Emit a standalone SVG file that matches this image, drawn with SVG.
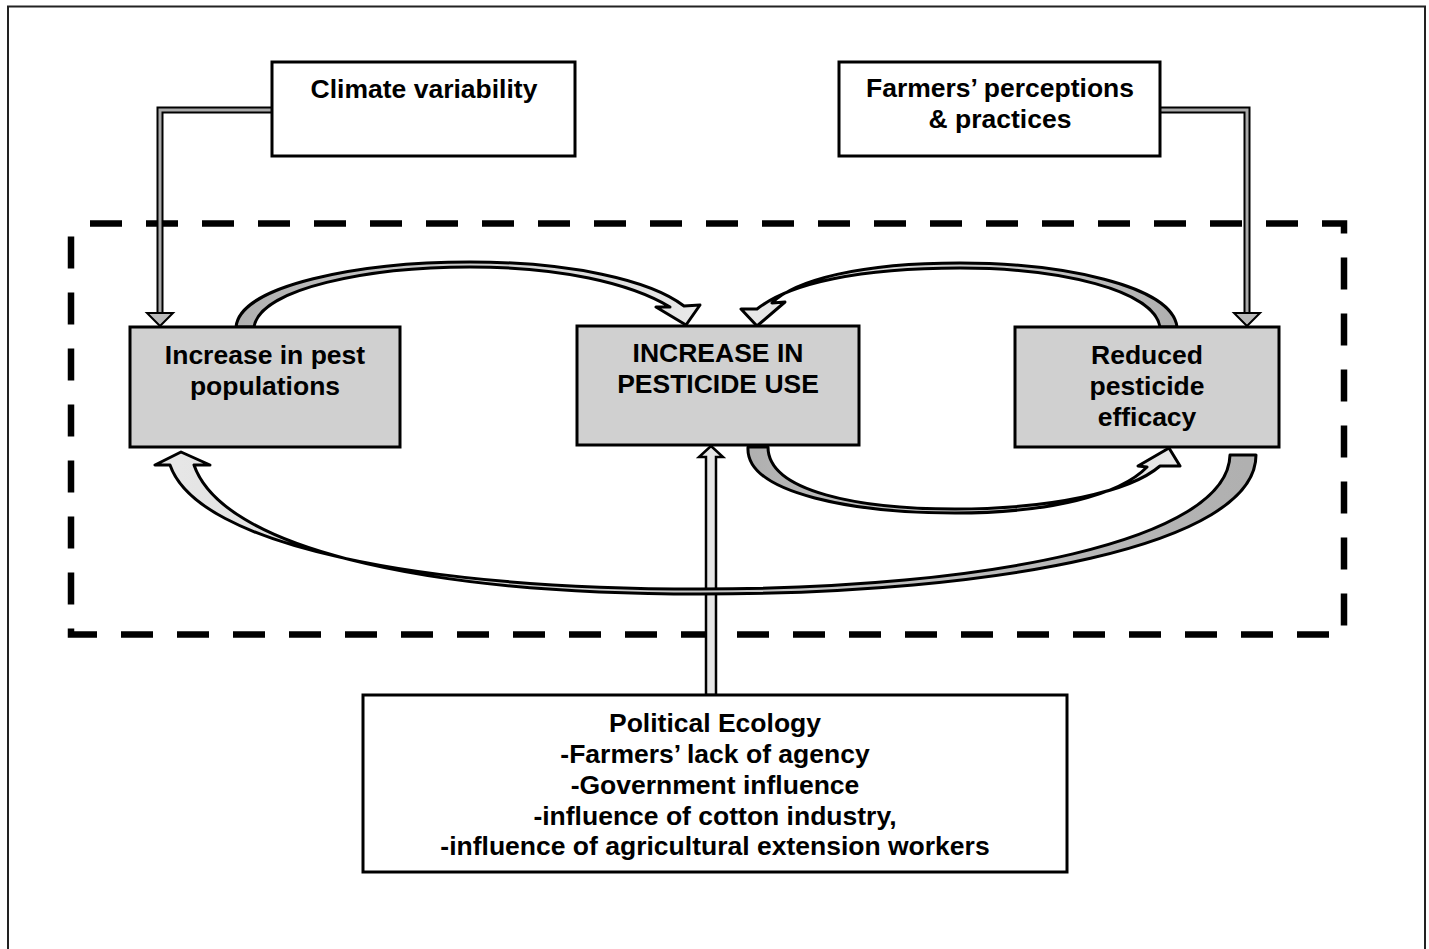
<svg xmlns="http://www.w3.org/2000/svg" width="1429" height="949" viewBox="0 0 1429 949">
<style>
.box{stroke:#000;stroke-width:3}
.white{fill:#fff}
.grey{fill:#d0d0d0}
.t{font-family:"Liberation Sans",Arial,sans-serif;font-weight:bold;font-size:26.5px;fill:#000;text-anchor:middle}
.curve{stroke:#000;stroke-width:3;stroke-linejoin:round}
.elbowOut{fill:none;stroke:#000;stroke-width:7}
.elbowIn{fill:none;stroke:#aaa;stroke-width:3}
.head{fill:#bbb;stroke:#000;stroke-width:2;stroke-linejoin:miter}
</style>
<defs>
<linearGradient id="g1" gradientUnits="userSpaceOnUse" x1="240" y1="0" x2="690" y2="0"><stop offset="0" stop-color="#b0b0b0"/><stop offset="0.4" stop-color="#c8c8c8"/><stop offset="1" stop-color="#e8e8e8"/></linearGradient>
<linearGradient id="g2" gradientUnits="userSpaceOnUse" x1="1170" y1="0" x2="755" y2="0"><stop offset="0" stop-color="#b0b0b0"/><stop offset="0.4" stop-color="#c8c8c8"/><stop offset="1" stop-color="#e8e8e8"/></linearGradient>
<linearGradient id="g3" gradientUnits="userSpaceOnUse" x1="755" y1="0" x2="1170" y2="0"><stop offset="0" stop-color="#b0b0b0"/><stop offset="0.4" stop-color="#c8c8c8"/><stop offset="1" stop-color="#e8e8e8"/></linearGradient>
<linearGradient id="g4" gradientUnits="userSpaceOnUse" x1="1245" y1="0" x2="180" y2="0"><stop offset="0" stop-color="#b0b0b0"/><stop offset="0.5" stop-color="#c8c8c8"/><stop offset="1" stop-color="#e6e6e6"/></linearGradient>
</defs>
<rect width="1429" height="949" fill="#fff"/>
<path d="M8,949 L8,6.5 L1425,6.5 L1425,949" fill="none" stroke="#222" stroke-width="2"/>
<rect id="system-boundary" x="71" y="223.5" width="1273" height="411" fill="none" stroke="#000" stroke-width="6.5" stroke-dasharray="32 24" stroke-dashoffset="37"/>

<g id="connectors">
<!-- climate -> pest -->
<path class="elbowOut" d="M272,110 L160,110 L160,313"/>
<path class="elbowIn" d="M272,110 L160,110 L160,313"/>
<polygon class="head" points="147,313 173,313 160,326"/>
<!-- farmers -> reduced -->
<path class="elbowOut" d="M1160,110 L1247,110 L1247,313"/>
<path class="elbowIn" d="M1160,110 L1247,110 L1247,313"/>
<polygon class="head" points="1234,313 1260,313 1247,326"/>
<!-- political -> pesticide use -->
<path d="M706,695 L706,457 L699,457 L711,446 L723,457 L716,457 L716,695 Z" fill="#e6e6e6" stroke="#000" stroke-width="2.5"/>
<!-- pest -> pesticide use -->
<path class="curve" fill="url(#g1)" d="M236,327 C240,285 360,262 470,262 C570,262 650,280 684,306 L700,305 L686,325 L656,307 L670,307 C630,283 560,267 470,267 C370,267 260,288 254,327 Z"/>
<!-- reduced -> pesticide use -->
<path class="curve" fill="url(#g2)" d="M1177,327 C1172,285 1060,263 960,263 C860,263 795,280 772,303 L785,302 L757,326 L741,309 L757,309 C790,283 860,268 960,268 C1060,268 1154,290 1160,327 Z"/>
<!-- pesticide use -> reduced -->
<path class="curve" fill="url(#g3)" d="M748,447 C745,495 860,513 955,513 C1050,513 1120,495 1147,467 L1138,466 L1169,448 L1180,466 L1160,466 C1130,492 1050,509 955,509 C860,509 768,492 768,447 Z"/>
<!-- reduced -> pest -->
<path class="curve" fill="url(#g4)" d="M1256,455 C1256,545 1000,594 700,594 C415,594 222,546 194,465 L210,465 L181,452 L155,465 L170,465 C198,546 420,589 700,589 C990,589 1228,540 1230,455 Z"/>
</g>

<g id="climate">
<rect class="box white" x="272" y="62" width="303" height="94"/>
<text class="t" x="424" y="98">Climate variability</text>
</g>
<g id="farmers">
<rect class="box white" x="839" y="62" width="321" height="94"/>
<text class="t" x="1000" y="97">Farmers’ perceptions</text>
<text class="t" x="1000" y="128">&amp; practices</text>
</g>
<g id="pest">
<rect class="box grey" x="130" y="327" width="270" height="120"/>
<text class="t" x="265" y="364">Increase in pest</text>
<text class="t" x="265" y="395">populations</text>
</g>
<g id="pesticide-use">
<rect class="box grey" x="577" y="326" width="282" height="119"/>
<text class="t" x="718" y="362">INCREASE IN</text>
<text class="t" x="718" y="393">PESTICIDE USE</text>
</g>
<g id="reduced">
<rect class="box grey" x="1015" y="327" width="264" height="120"/>
<text class="t" x="1147" y="364">Reduced</text>
<text class="t" x="1147" y="395">pesticide</text>
<text class="t" x="1147" y="426">efficacy</text>
</g>
<g id="political">
<rect class="box white" x="363" y="695" width="704" height="177"/>
<text class="t" x="715" y="732">Political Ecology</text>
<text class="t" x="715" y="763">-Farmers’ lack of agency</text>
<text class="t" x="715" y="794">-Government influence</text>
<text class="t" x="715" y="825">-influence of cotton industry,</text>
<text class="t" x="715" y="855">-influence of agricultural extension workers</text>
</g>
</svg>
